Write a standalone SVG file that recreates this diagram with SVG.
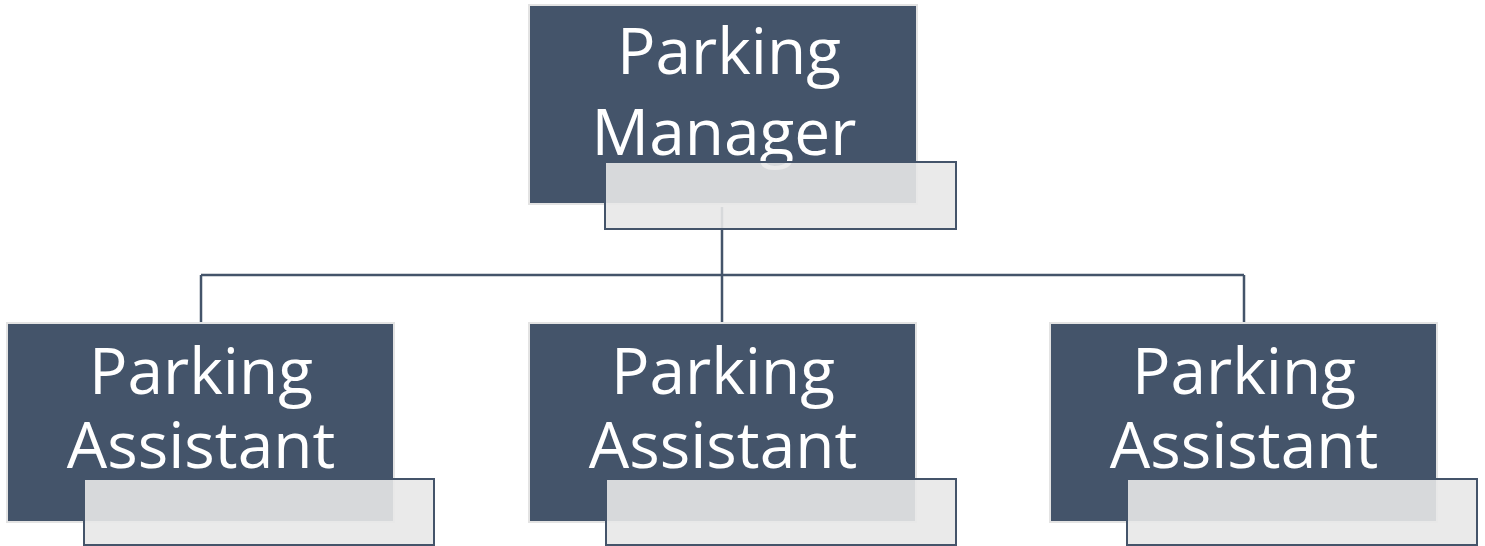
<svg xmlns="http://www.w3.org/2000/svg" width="1485" height="546" viewBox="0 0 1485 546">
<style>
.main{fill:#44546A;stroke:#E3E3E3;stroke-width:2}
.sub{fill:#E8E8E8;fill-opacity:0.9;stroke:#44546A;stroke-width:2}
.lbl{font-family:"Open Sans","Noto Sans",sans-serif;font-size:64px;fill:#FFFFFF;text-anchor:middle}
.conn{fill:none;stroke:#44546A;stroke-width:2.5}
</style>
<rect width="1485" height="546" fill="#FFFFFF"/>
<g id="connectors">
<path class="conn" d="M722 207V275M201 275H1244M201 275V322M722 275V322M1244 275V322"/>
</g>
<g id="manager">
<rect class="main" x="529" y="5" width="388" height="199"/>
<text class="lbl" x="729" y="74">Parking</text>
<text class="lbl" x="724" y="155">Manager</text>
<rect class="sub" x="605" y="162" width="351" height="67"/>
</g>
<g id="assistant1">
<rect class="main" x="7" y="323" width="387" height="199"/>
<text class="lbl" x="201" y="394">Parking</text>
<text class="lbl" x="201" y="468">Assistant</text>
<rect class="sub" x="84" y="479" width="350" height="66"/>
</g>
<g id="assistant2">
<rect class="main" x="529" y="323" width="387" height="199"/>
<text class="lbl" x="723" y="394">Parking</text>
<text class="lbl" x="723" y="468">Assistant</text>
<rect class="sub" x="606" y="479" width="350" height="66"/>
</g>
<g id="assistant3">
<rect class="main" x="1050" y="323" width="387" height="199"/>
<text class="lbl" x="1244" y="394">Parking</text>
<text class="lbl" x="1244" y="468">Assistant</text>
<rect class="sub" x="1127" y="479" width="350" height="66"/>
</g>
</svg>
